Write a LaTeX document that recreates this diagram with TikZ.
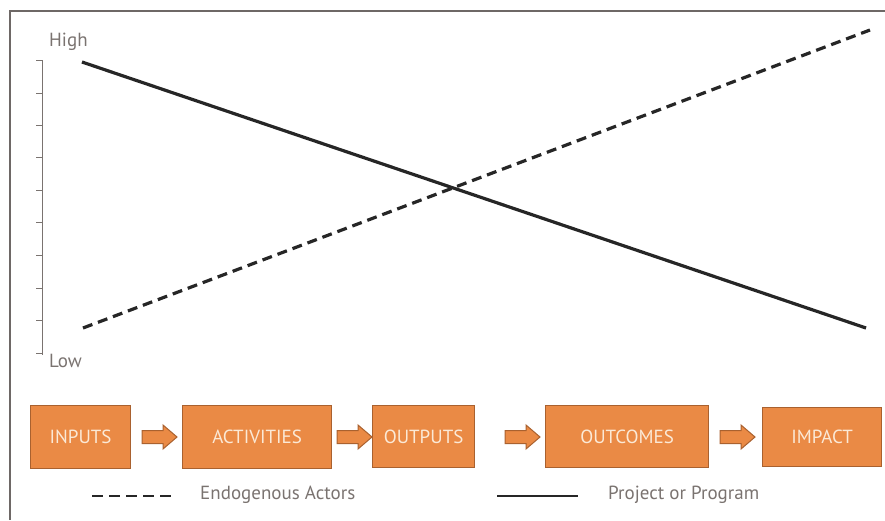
\documentclass[tikz,border=0pt]{standalone}
\usepackage{fontspec}
\setmainfont{PT Sans}
\definecolor{boxfill}{HTML}{EA8A45}
\definecolor{boxline}{HTML}{A9612F}
\definecolor{boxtext}{HTML}{FBE9D6}
\definecolor{labelgray}{HTML}{7A7370}
\definecolor{framegray}{HTML}{6E6866}
\begin{document}
\begin{tikzpicture}[x=1pt,y=-1pt,
  stagebox/.style={draw=boxline,line width=1.2pt,fill=boxfill,text=boxtext,
    font=\fontsize{19}{19}\selectfont,inner sep=0pt,anchor=north west},
  flowarrow/.style={draw=boxline,line width=1pt,fill=boxfill,line join=miter},
  trend/.style={line width=3.2pt,color=black!85},
  tick/.style={labelgray,line width=0.7pt},
  lbl/.style={text=labelgray,font=\fontsize{19}{19}\selectfont,inner sep=0pt}]
\useasboundingbox (0,0) rectangle (885,520);
% frame
\draw[framegray,line width=1.2pt] (10,520) -- (10,11) -- (885,11);
% vertical axis with ticks
\draw[tick] (42,60) -- (42,355);
\foreach \yy in {60,93,125,157,190,222,255,288,320,353}
  \draw[tick] (36,\yy) -- (42,\yy);
\node[lbl,anchor=west] (high) at (49,42) {High};
\node[lbl,anchor=west] (low) at (49,361) {Low};
% trend lines
\coordinate (p0) at (82,62);
\coordinate (p1) at (866,328);
\coordinate (e0) at (83,328);
\coordinate (e1) at (870,30);
\draw[trend] (p0) -- (p1);
\draw[trend,dash pattern=on 10pt off 6pt] (e0) -- (e1);
% stages
\node[stagebox,minimum width=100pt,minimum height=63pt] (inputs) at (30,405) {INPUTS};
\node[stagebox,minimum width=149pt,minimum height=63pt] (activities) at (182,405) {ACTIVITIES};
\node[stagebox,minimum width=102pt,minimum height=62pt] (outputs) at (372,405) {OUTPUTS};
\node[stagebox,minimum width=163pt,minimum height=62pt] (outcomes) at (545,405) {OUTCOMES};
\node[stagebox,minimum width=119pt,minimum height=59pt] (impact) at (762,407) {IMPACT};
% block arrows between stages (start points)
\coordinate (a1) at (142,437);
\coordinate (a2) at (337,437);
\coordinate (a3) at (505,437);
\coordinate (a4) at (720,437);
\foreach \a in {a1,a2,a3,a4}
  \draw[flowarrow] (\a) ++(0,-6.5) -- ++(21,0) -- ++(0,-5.5) -- ++(14,12)
    -- ++(-14,12) -- ++(0,-5.5) -- ++(-21,0) -- cycle;
% legend
\coordinate (l1a) at (92,496);
\coordinate (l1b) at (172,496);
\coordinate (l2a) at (497,496);
\coordinate (l2b) at (578,496);
\draw[trend,line width=2.8pt,dash pattern=on 11pt off 6pt] (l1a) -- (l1b);
\draw[trend,line width=2.8pt] (l2a) -- (l2b);
\node[lbl,anchor=west] (endo) at (200,495) {Endogenous Actors};
\node[lbl,anchor=west] (proj) at (608,495) {Project or Program};
\end{tikzpicture}
\end{document}
